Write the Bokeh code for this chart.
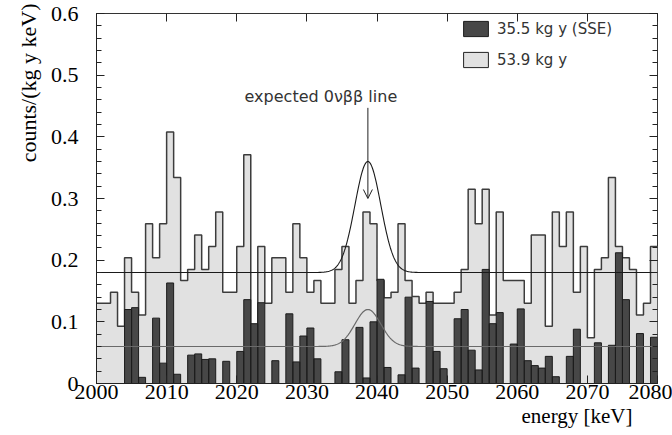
import numpy as np
from bokeh.plotting import figure
from bokeh.models import (ColumnDataSource, LinearAxis, FixedTicker, SingleIntervalTicker,
                          CustomJSTickFormatter, Label, Arrow, OpenHead, Legend, LegendItem,
                          Range1d, Title)
from bokeh.embed import file_html
from bokeh.resources import INLINE

# ---- data ----
bin_lo = list(range(2000, 2080))          # 1 keV bins, lower edges
bin_width = 1.0

spec_53_9 = [0.130, 0.130, 0.148, 0.093, 0.204, 0.148, 0.111, 0.259, 0.204, 0.259,
             0.408, 0.334, 0.167, 0.185, 0.241, 0.185, 0.222, 0.278, 0.148, 0.148,
             0.222, 0.371, 0.095, 0.222, 0.130, 0.204, 0.204, 0.148, 0.259, 0.204,
             0.148, 0.167, 0.130, 0.130, 0.185, 0.222, 0.130, 0.167, 0.278, 0.259,
             0.167, 0.139, 0.148, 0.259, 0.167, 0.141, 0.130, 0.148, 0.130, 0.130,
             0.130, 0.148, 0.185, 0.315, 0.259, 0.315, 0.111, 0.278, 0.167, 0.167,
             0.167, 0.130, 0.241, 0.241, 0.093, 0.278, 0.222, 0.278, 0.148, 0.222,
             0.074, 0.185, 0.204, 0.334, 0.222, 0.204, 0.185, 0.111, 0.130, 0.222]

spec_35_5_sse = [0, 0, 0, 0, 0.120, 0.123, 0.010, 0, 0.106, 0.033,
                 0.163, 0.015, 0, 0.046, 0.048, 0.039, 0.040, 0, 0.036, 0,
                 0.052, 0.136, 0.097, 0.131, 0, 0.037, 0, 0.113, 0.035, 0.077,
                 0.090, 0.040, 0, 0, 0.019, 0.071, 0, 0.091, 0.009, 0.100,
                 0.169, 0.026, 0, 0.014, 0.140, 0.025, 0, 0.133, 0.052, 0.024,
                 0, 0.105, 0.120, 0.054, 0.022, 0.185, 0.097, 0.115, 0, 0.064,
                 0.121, 0.037, 0.029, 0.025, 0.044, 0.011, 0, 0.044, 0.088, 0,
                 0, 0.066, 0, 0.062, 0.212, 0.136, 0, 0.081, 0, 0.075]

# expected 0vbb line shape (background + gaussian)
q_bb = 2038.7
sigma = 1.85
bkg_53_9, amp_53_9 = 0.18, 0.18
bkg_35_5, amp_35_5 = 0.06, 0.06
curve_from, curve_to = 2000.3, 2079.5

labels = ["35.5 kg y (SSE)", "53.9 kg y"]
y_ticks = [0, 0.1, 0.2, 0.3, 0.4, 0.5, 0.6]
y_minor_ticks = [round(0.02 * i, 2) for i in range(31)]

LIGHT = "#e1e1e1"
DARK = "#474747"

# ---- figure ----
p = figure(width=672, height=435, output_backend="svg", toolbar_location=None,
           x_range=Range1d(2000, 2080), y_range=Range1d(0, 0.6),
           min_border_left=96, min_border_right=15, min_border_top=13, min_border_bottom=52)
p.grid.visible = False
p.outline_line_color = "#333333"
p.outline_line_width = 1
p.background_fill_color = "white"

left = np.array(bin_lo, dtype=float)
right = left + bin_width
step_x = list(bin_lo) + [bin_lo[-1] + bin_width]
light_y = list(spec_53_9) + [spec_53_9[-1]]
dark_y = list(spec_35_5_sse) + [spec_35_5_sse[-1]]

# light histogram: filled area + outline
p.varea_step(x=step_x, y1=[0] * len(step_x), y2=light_y, step_mode="after", fill_color=LIGHT)
p.step(x=step_x, y=light_y, mode="after", line_color="#3c3c3c", line_width=1.5)

# dark (SSE) histogram: filled area + per-bin outlines
dark_src = ColumnDataSource(dict(left=left, right=right, top=spec_35_5_sse, bottom=[0] * len(bin_lo)))
p.varea_step(x=step_x, y1=[0] * len(step_x), y2=dark_y, step_mode="after", fill_color=DARK)
p.quad(left="left", right="right", top="top", bottom="bottom", source=dark_src,
       fill_color=None, line_color="#1c1c1c", line_width=1)

# legend proxies (NaN data: nothing drawn in the plot)
nan = np.array([np.nan])
dark_proxy = p.quad(left=nan, right=nan, top=nan, bottom=nan, fill_color=DARK,
                    line_color="#1c1c1c", line_width=1)
light_proxy = p.quad(left=nan, right=nan, top=nan, bottom=nan, fill_color=LIGHT,
                     line_color="#222222", line_width=1)

xs = np.linspace(curve_from, curve_to, 900)
g = np.exp(-0.5 * ((xs - q_bb) / sigma) ** 2)
p.line(xs, bkg_53_9 + amp_53_9 * g, line_color="#1a1a1a", line_width=1.1)
p.line(xs, bkg_35_5 + amp_35_5 * g, line_color="#6a6a6a", line_width=1.2)

# ---- axes ----
serif = "Liberation Serif"
p.xaxis.ticker = SingleIntervalTicker(interval=10, num_minor_ticks=0)
p.yaxis.ticker = FixedTicker(ticks=y_ticks, minor_ticks=y_minor_ticks)
p.yaxis.formatter = CustomJSTickFormatter(code="return Math.abs(tick) < 1e-9 ? '0' : tick.toFixed(1);")
for ax in (p.xaxis[0], p.yaxis[0]):
    ax.major_label_text_font = serif
    ax.major_label_text_font_size = "22px"
    ax.major_label_text_color = "black"
    ax.axis_line_color = "#222222"
    ax.major_tick_line_color = "#222222"
    ax.minor_tick_line_color = "#222222"
    ax.major_tick_in = 8
    ax.major_tick_out = 0
    ax.minor_tick_in = 5
    ax.minor_tick_out = 0
p.xaxis.major_label_standoff = 1
p.yaxis.major_label_standoff = 18

top_ax = LinearAxis(ticker=SingleIntervalTicker(interval=10, num_minor_ticks=0),
                    major_label_text_font_size="0px", major_label_standoff=0,
                    major_tick_in=8, major_tick_out=0, minor_tick_in=0, minor_tick_out=0,
                    axis_line_color=None, major_tick_line_color="#222222")
right_ax = LinearAxis(ticker=FixedTicker(ticks=y_ticks, minor_ticks=y_minor_ticks),
                      major_label_text_font_size="0px", major_label_standoff=0,
                      major_tick_in=8, major_tick_out=0, minor_tick_in=5, minor_tick_out=0,
                      axis_line_color=None, major_tick_line_color="#222222",
                      minor_tick_line_color="#222222")
p.add_layout(top_ax, "above")
p.add_layout(right_ax, "right")

# axis titles (placed at the ends of the axes, as in the original)
p.add_layout(Title(text="energy [keV]", align="right", offset=25, standoff=0,
                   text_font=serif, text_font_size="21px", text_font_style="normal",
                   text_color="black"), "below")
p.add_layout(Title(text="counts/(kg y keV)", align="right", offset=-10, standoff=14,
                   text_font=serif, text_font_size="22px", text_font_style="normal",
                   text_color="black"), "left")

# annotation
p.add_layout(Label(x=2032, y=0.465, text="expected 0\u03bd\u03b2\u03b2 line",
                   text_font="DejaVu Sans", text_font_size="16px", text_color="#333333",
                   text_align="center", text_baseline="middle"))
p.add_layout(Arrow(end=OpenHead(size=9, line_width=1, line_color="#222222"),
                   x_start=q_bb, y_start=0.447, x_end=q_bb, y_end=0.30,
                   line_width=1, line_color="#222222"))

legend = Legend(items=[LegendItem(label=labels[0], renderers=[dark_proxy]),
                       LegendItem(label=labels[1], renderers=[light_proxy])],
                location=(364, 314), orientation="vertical")
legend.label_text_font = "DejaVu Sans"
legend.label_text_font_size = "15px"
legend.label_text_color = "#333333"
legend.glyph_width = 31
legend.glyph_height = 19
legend.label_height = 19
legend.label_standoff = 6
legend.spacing = 12
legend.padding = 0
legend.margin = 0
legend.border_line_color = None
legend.background_fill_alpha = 0
p.add_layout(legend)

open("out.html", "w").write(file_html(p, INLINE))
